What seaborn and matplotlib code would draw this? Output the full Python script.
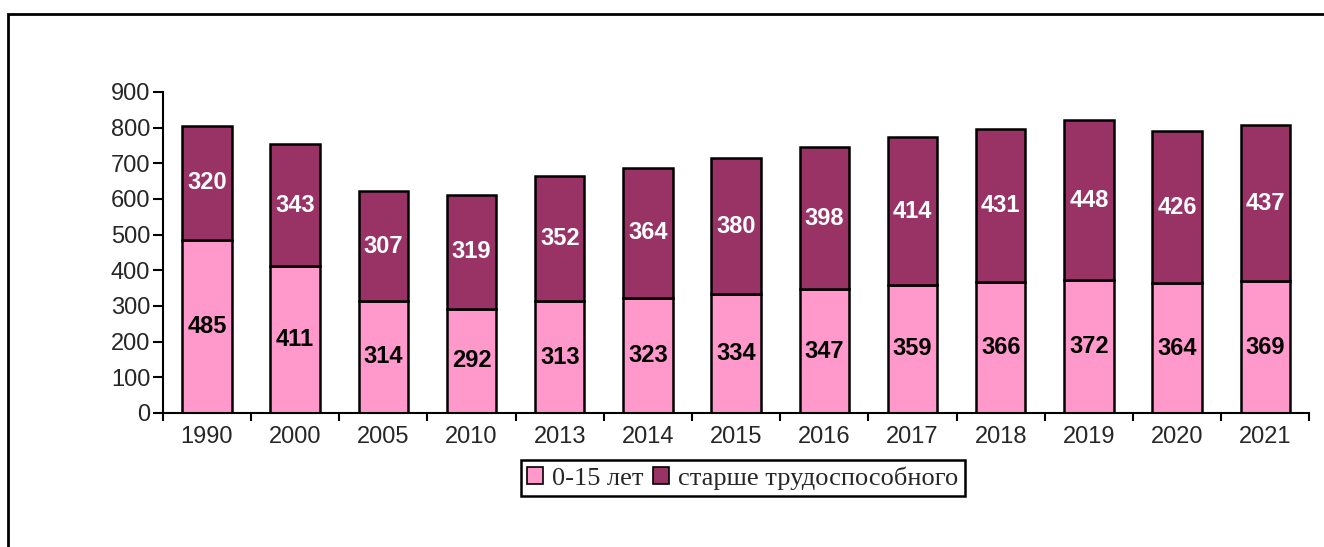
import numpy as np
import pandas as pd
import matplotlib
matplotlib.use("Agg")
import matplotlib.pyplot as plt
import seaborn as sns
from matplotlib.patches import Rectangle, Patch

# =========================
# DATA
# =========================

years = ["1990", "2000", "2005", "2010", "2013", "2014", "2015",
         "2016", "2017", "2018", "2019", "2020", "2021"]
children = [485, 411, 314, 292, 313, 323, 334, 347, 359, 366, 372, 364, 369]
elderly = [320, 343, 307, 319, 352, 364, 380, 398, 414, 431, 448, 426, 437]

label_children = "0-15 лет"
label_elderly = "старше трудоспособного"

color_children = "#FF99CC"
color_elderly = "#993366"

df = pd.DataFrame({"year": years, "children": children, "elderly": elderly})

# =========================
# PLOT
# =========================

sns.set_style("white")
plt.rcParams["font.family"] = ["Liberation Sans Narrow", "Liberation Sans", "DejaVu Sans"]

fig = plt.figure(figsize=(13.24, 5.47), dpi=100)
ax = fig.add_axes([0.123, 0.245, 0.866, 0.587])

sns.barplot(data=df, x="year", y="children", color=color_children,
            edgecolor="black", linewidth=1.8, width=0.56, ax=ax, saturation=1)
sns.barplot(data=df, x="year", y="elderly", bottom=df["children"], color=color_elderly,
            edgecolor="black", linewidth=1.8, width=0.56, ax=ax, saturation=1)

# value labels
for i, (c, e) in enumerate(zip(children, elderly)):
    ax.text(i, c / 2, str(c), ha="center", va="center", fontsize=17,
            fontweight="bold", color="black")
    ax.text(i, c + e / 2, str(e), ha="center", va="center", fontsize=17,
            fontweight="bold", color="white")

ax.set_ylim(0, 900)
ax.set_xlim(-0.5, len(years) - 0.5)
ax.set_yticks(range(0, 901, 100))
ax.set_xlabel("")
ax.set_ylabel("")

for s in ["top", "right"]:
    ax.spines[s].set_visible(False)
for s in ["left", "bottom"]:
    ax.spines[s].set_color("black")
    ax.spines[s].set_linewidth(1.5)

ax.tick_params(axis="y", left=True, length=7, width=1.5, color="black",
               labelsize=17, pad=2)
ax.tick_params(axis="x", which="major", bottom=False, labelsize=17, pad=6)
ax.set_xticks(np.arange(-0.5, len(years)), minor=True)
ax.tick_params(axis="x", which="minor", bottom=True, length=6, width=1.5, color="black")

# legend
handles = [Patch(facecolor=color_children, edgecolor="black", linewidth=1.2, label=label_children),
           Patch(facecolor=color_elderly, edgecolor="black", linewidth=1.2, label=label_elderly)]
leg = fig.legend(handles=handles, loc="center", bbox_to_anchor=(0.561, 0.126), ncol=2,
                 frameon=True, fancybox=False, framealpha=1, handlelength=0.6, handleheight=0.6,
                 handletextpad=0.35, columnspacing=0.35, borderpad=0.25,
                 borderaxespad=0, prop={"family": "Liberation Serif", "size": 19})
leg.get_frame().set_edgecolor("black")
leg.get_frame().set_linewidth(1.8)

# outer border of the chart area
fig.patches.append(Rectangle((8 / 1324, -0.1), 1.2, 1 - 14 / 547 + 0.1,
                             transform=fig.transFigure, fill=False,
                             edgecolor="black", linewidth=2))

plt.savefig("out.png", dpi=100)
